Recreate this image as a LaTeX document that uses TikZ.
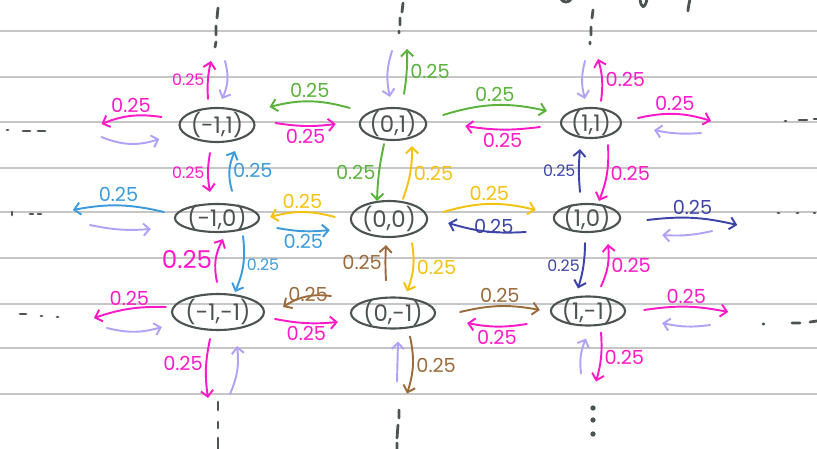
\documentclass[tikz,border=0pt]{standalone}
\usepackage{fontspec}
\setmainfont{Poppins}
\usetikzlibrary{shapes.geometric,arrows.meta}

\definecolor{ink}{HTML}{4B5452}
\definecolor{rule}{HTML}{C6C6C6}
\definecolor{penmag}{HTML}{FF19C8}
\definecolor{penlav}{HTML}{AFA3F7}
\definecolor{pengreen}{HTML}{5BB33C}
\definecolor{penblue}{HTML}{3D9BDB}
\definecolor{penyellow}{HTML}{F5C211}
\definecolor{penbrown}{HTML}{9C6B3C}
\definecolor{penindigo}{HTML}{3C44A8}

\begin{document}
\begin{tikzpicture}[
    x=0.02cm, y=-0.02cm,
    state/.style 2 args={ellipse, draw=ink, text=ink, line width=1.2pt, minimum width=#1, minimum height=#2, inner xsep=0pt, inner ysep=-2pt, font=\fontsize{13}{13}\selectfont},
    lbl/.style={font=\fontsize{11}{11}\selectfont, inner sep=1.5pt},
    lbl small/.style={lbl, font=\fontsize{9}{9}\selectfont},
    lbl big/.style={lbl, font=\fontsize{14}{14}\selectfont},
    arrow/.style={-{Straight Barb[length=3.5pt,width=7pt]}, line width=1.1pt, line cap=round, line join=round},
    ruling/.style={draw=rule, line width=1pt},
    pen/.style={draw=ink, line width=1.6pt, line cap=round}
]
    \useasboundingbox (0,0) rectangle (817,449);

    % Paper rules
    \foreach \y in {31,77,122,168,212,258,304,348,394}
        \draw[ruling] (0,\y) -- (817,\y);

    % States
    \node[state={1.5cm}{0.68cm}] (smp) at (217,125) {(-1,1)};
    \node[state={1.28cm}{0.64cm}] (szp) at (393,124) {(0,1)};
    \node[state={1.2cm}{0.6cm}] (spp) at (591,123) {(1,1)};
    \node[state={1.44cm}{0.56cm}] (smz) at (217,218) {(-1,0)};
    \node[state={1.44cm}{0.72cm}] (szz) at (389,219) {(0,0)};
    \node[state={1.28cm}{0.56cm}] (spz) at (587,218) {(1,0)};
    \node[state={1.82cm}{0.72cm}] (smm) at (218,312) {(-1,-1)};
    \node[state={1.36cm}{0.62cm}] (szm) at (393,313) {(0,-1)};
    \node[state={1.26cm}{0.58cm}] (spm) at (588,311) {(1,-1)};

    % Row 1
    \draw[arrow, penmag] ([shift={(-17,-8)}]smp.west) to[bend right=15] node[lbl, above] {0.25} ([shift={(-77,-1)}]smp.west);
    \draw[arrow, penlav] ([shift={(-77,12)}]smp.west) to[bend right=20] ([shift={(-19,14)}]smp.west);
    \draw[arrow, penmag] ([shift={(-9,-8)}]smp.north) to[bend left=8] node[lbl small, left] {0.25} ([shift={(-6,-46)}]smp.north);
    \draw[arrow, penlav] ([shift={(8,-46)}]smp.north) to[bend left=20] ([shift={(5,-8)}]smp.north);
    \draw[arrow, pengreen] ([shift={(-9,-16)}]szp.west) to[bend right=15] node[lbl, above] {0.25} ([shift={(14,-18)}]smp.east);
    \draw[arrow, penmag] ([shift={(20,-2)}]smp.east) to[bend right=8] node[lbl, below] {0.25} ([shift={(-23,0)}]szp.west);
    \draw[arrow, penlav] ([shift={(-1,-56)}]szp.north) to[bend right=15] ([shift={(-3,-10)}]szp.north);
    \draw[arrow, pengreen] ([shift={(11,-13)}]szp.north) to[bend right=5] node[lbl, right] {0.25} ([shift={(14,-58)}]szp.north);
    \draw[arrow, pengreen] ([shift={(16,-9)}]szp.east) to[bend left=15] node[lbl, above] {0.25} ([shift={(-13,-12)}]spp.west);
    \draw[arrow, penmag] ([shift={(-20,4)}]spp.west) to[bend left=8] node[lbl, below] {0.25} ([shift={(38,2)}]szp.east);
    \draw[arrow, penlav] ([shift={(-6,-46)}]spp.north) to[bend right=15] ([shift={(-6,-8)}]spp.north);
    \draw[arrow, penmag] ([shift={(10,-6)}]spp.north) to[bend right=12] node[lbl, right] {0.25} ([shift={(7,-48)}]spp.north);
    \draw[arrow, penmag] ([shift={(16,-5)}]spp.east) to[bend left=15] node[lbl, above] {0.25} ([shift={(89,-2)}]spp.east);
    \draw[arrow, penlav] ([shift={(79,10)}]spp.east) to[bend left=8] ([shift={(32,7)}]spp.east);

    % Row 1 <-> Row 2
    \draw[arrow, penmag] ([shift={(-7,10)}]smp.south) to[bend right=10] node[lbl small, left] {0.25} ([shift={(-7,-11)}]smz.north);
    \draw[arrow, penblue] ([shift={(15,-12)}]smz.north) to[bend left=20] node[lbl, right] {0.25} ([shift={(18,8)}]smp.south);
    \draw[arrow, pengreen] ([shift={(-9,3)}]szp.south) to[bend right=5] node[lbl, left] {0.25} ([shift={(-12,1)}]szz.north);
    \draw[arrow, penyellow] ([shift={(14,-1)}]szz.north) to[bend right=10] node[lbl, right] {0.25} ([shift={(19,5)}]szp.south);
    \draw[arrow, penindigo] ([shift={(-7,-11)}]spz.north) to[bend left=5] node[lbl small, left] {0.25} ([shift={(-11,10)}]spp.south);
    \draw[arrow, penmag] ([shift={(17,6)}]spp.south) to[bend left=12] node[lbl, right] {0.25} ([shift={(12,-2)}]spz.north);

    % Row 2
    \draw[arrow, penblue] ([shift={(-10,-6)}]smz.west) to[bend right=12] node[lbl, above] {0.25} ([shift={(-101,-8)}]smz.west);
    \draw[arrow, penlav] ([shift={(-84,7)}]smz.west) to[bend right=8] ([shift={(-23,11)}]smz.west);
    \draw[arrow, penyellow] ([shift={(-15,-2)}]szz.west) to[bend right=15] node[lbl, above] {0.25} ([shift={(10,-1)}]smz.east);
    \draw[arrow, penblue] ([shift={(17,10)}]smz.east) to[bend right=8] node[lbl, below] {0.25} ([shift={(-20,11)}]szz.west);
    \draw[arrow, penyellow] ([shift={(15,-7)}]szz.east) to[bend left=15] node[lbl, above] {0.25} ([shift={(-17,-8)}]spz.west);
    \draw[arrow, penindigo] ([shift={(-27,14)}]spz.west) to[bend left=10] node[lbl, pos=0.4, yshift=3pt] {0.25} ([shift={(20,4)}]szz.east);
    \draw[arrow, penindigo] ([shift={(26,2)}]spz.east) to[bend left=10] node[lbl, above] {0.25} ([shift={(116,7)}]spz.east);
    \draw[arrow, penlav] ([shift={(91,13)}]spz.east) to[bend left=8] ([shift={(41,17)}]spz.east);

    % Row 2 <-> Row 3
    \draw[arrow, penmag] ([shift={(-1,-11)}]smm.north) to[bend left=20] node[lbl big, left] {0.25} ([shift={(6,6)}]smz.south);
    \draw[arrow, penblue] ([shift={(26,3)}]smz.south) to[bend left=15] node[lbl small, right] {0.25} ([shift={(17,-1)}]smm.north);
    \draw[arrow, penbrown] ([shift={(-7,-16)}]szm.north) to[bend left=3] node[lbl, left] {0.25} ([shift={(-3,7)}]szz.south);
    \draw[arrow, penyellow] ([shift={(23,5)}]szz.south) to[bend left=15] node[lbl, right] {0.25} ([shift={(14,-5)}]szm.north);
    \draw[arrow, penindigo] ([shift={(-2,10)}]spz.south) to[bend left=8] node[lbl small, left] {0.25} ([shift={(-10,-7)}]spm.north);
    \draw[arrow, penmag] ([shift={(13,-9)}]spm.north) to[bend right=15] node[lbl, right] {0.25} ([shift={(21,11)}]spz.south);

    % Row 3
    \draw[arrow, penmag] ([shift={(-5,-5)}]smm.west) to[bend right=10] node[lbl, above] {0.25} ([shift={(-77,6)}]smm.west);
    \draw[arrow, penlav] ([shift={(-64,16)}]smm.west) to[bend right=15] ([shift={(-9,15)}]smm.west);
    \draw[arrow, penbrown] ([shift={(-19,-17)}]szm.west) to[bend right=20] node[lbl, pos=0.45, yshift=1pt] {0.25} ([shift={(18,-5)}]smm.east);
    \draw[arrow, penmag] ([shift={(10,7)}]smm.east) to[bend right=8] node[lbl, below] {0.25} ([shift={(-12,9)}]szm.west);
    \draw[arrow, penbrown] ([shift={(24,-1)}]szm.east) to[bend left=12] node[lbl, above] {0.25} ([shift={(-10,-1)}]spm.west);
    \draw[arrow, penmag] ([shift={(-23,13)}]spm.west) to[bend left=10] node[lbl, below] {0.25} ([shift={(31,10)}]szm.east);
    \draw[arrow, penmag] ([shift={(18,-1)}]spm.east) to[bend left=10] node[lbl, above] {0.25} ([shift={(102,1)}]spm.east);
    \draw[arrow, penlav] ([shift={(84,14)}]spm.east) to[bend left=10] ([shift={(36,12)}]spm.east);

    % Row 3 -> below
    \draw[arrow, penmag] ([shift={(-8,8)}]smm.south) to[bend right=10] node[lbl, left, pos=0.4] {0.25} ([shift={(-10,67)}]smm.south);
    \draw[arrow, penlav] ([shift={(12,63)}]smm.south) to[bend right=15] ([shift={(19,15)}]smm.south);
    \draw[arrow, penlav] ([shift={(4,52)}]szm.south) -- ([shift={(5,12)}]szm.south);
    \draw[arrow, penbrown] ([shift={(17,7)}]szm.south) to[bend left=15] node[lbl, right] {0.25} ([shift={(14,64)}]szm.south);
    \draw[arrow, penlav] ([shift={(-7,47)}]spm.south) to[bend left=15] ([shift={(-2,12)}]spm.south);
    \draw[arrow, penmag] ([shift={(13,6)}]spm.south) to[bend left=10] node[lbl, right] {0.25} ([shift={(8,55)}]spm.south);

    % Continuation marks
    \draw[pen] (218,8) -- (217,18) (216,26) -- (216,35) (216,42) -- (215,47);
    \draw[pen] (403,3) -- (402,12) (400,18) -- (400,25) (399,31) -- (399,33);
    \draw[pen] (593,10) -- (592,18) (591,27) -- (591,35) (590,42) -- (590,44);
    \draw[pen] (218,402) -- (218,410) (218,422) -- (218,428) (218,438) -- (218,449);
    \draw[pen] (399,410) -- (399,418) (398,425) -- (397,438) (397,443) -- (397,449);
    \foreach \y in {408,420,434}
        \fill[ink] (593,\y) circle (1.5pt);
    \draw[pen] (7,130) -- (8,130) (23,131) -- (30,131) (38,131) -- (45,131);
    \draw[pen] (785,121) -- (786,121) (799,120) -- (807,120) (814,119) -- (817,119);
    \draw[pen] (12,212) -- (12,215) (30,214) -- (33,214) (38,214) -- (41,214);
    \draw[pen] (778,213) -- (779,213) (797,213) -- (798,213) (814,213) -- (815,213);
    \draw[pen] (20,314) -- (26,314) (41,316) -- (42,316) (57,317) -- (58,317);
    \draw[pen] (763,324) -- (764,324) (792,323) -- (800,323) (810,322) -- (817,321);

    % Cut-off writing at the top
    \draw[pen] (561,-1) .. controls (563,3) and (569,3) .. (571,-1);
    \draw[pen] (640,-1) .. controls (641,9) and (645,9) .. (647,-1);
    \draw[pen] (690,-1) .. controls (689,4) and (688,8) .. (688,11);
\end{tikzpicture}
\end{document}
